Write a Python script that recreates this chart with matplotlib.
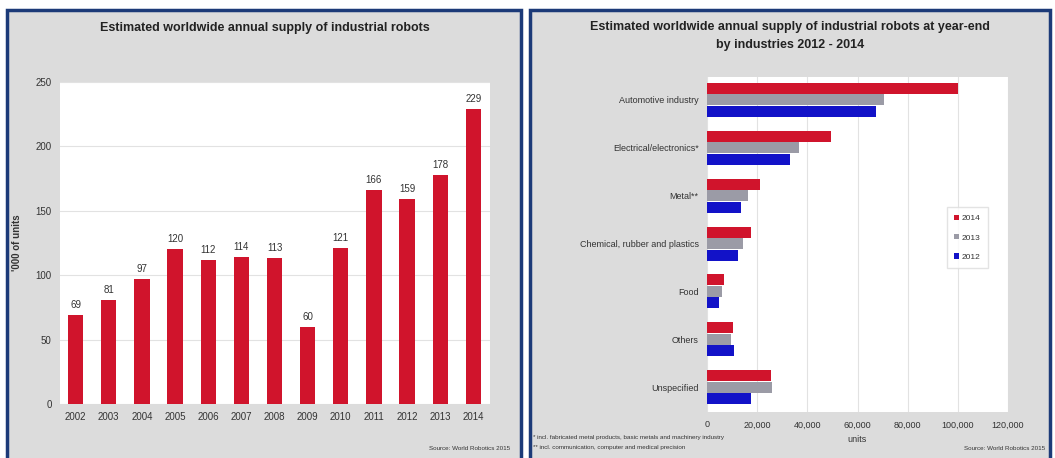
import matplotlib
matplotlib.use("Agg")
import matplotlib.pyplot as plt
from matplotlib.patches import Rectangle
import numpy as np

plt.rcParams['font.family'] = ['Liberation Sans', 'DejaVu Sans']

# left chart data
years = ["2002", "2003", "2004", "2005", "2006", "2007", "2008", "2009", "2010", "2011", "2012", "2013", "2014"]
supply = [69, 81, 97, 120, 112, 114, 113, 60, 121, 166, 159, 178, 229]

# right chart data
industries = ["Automotive industry", "Electrical/electronics*", "Metal**",
              "Chemical, rubber and plastics", "Food", "Others", "Unspecified"]
units_2014 = [100000, 49500, 21000, 17500, 6800, 10400, 25500]
units_2013 = [70500, 36500, 16500, 14300, 5800, 9400, 25800]
units_2012 = [67500, 33200, 13500, 12500, 4700, 10600, 17600]

RED = "#d0142c"
GRAY = "#9b9ba6"
BLUE = "#1212c8"
PANEL = "#dcdcdc"
FRAME = "#1c3a78"
TXT = "#333333"

W, H = 1055, 458
fig = plt.figure(figsize=(W / 100, H / 100), dpi=100)
fig.patch.set_facecolor("white")

def px(x0, y0, x1, y1):
    # pixel box (top-left origin) -> figure fraction rect
    return [x0 / W, 1 - y1 / H, (x1 - x0) / W, (y1 - y0) / H]

# panel backgrounds with blue frames
for x0, x1 in [(7, 521), (530, 1050)]:
    r = px(x0, 10, x1, 462)
    fig.patches.append(Rectangle((r[0], r[1]), r[2], r[3], transform=fig.transFigure,
                                 facecolor=PANEL, edgecolor=FRAME, linewidth=2.5, zorder=-5))

# ---- left chart ----
ax1 = fig.add_axes(px(60, 82, 490, 404))
x = np.arange(len(years))
bars = ax1.bar(x, supply, width=0.46, color=RED, zorder=3)
for b, v in zip(bars, supply):
    ax1.text(b.get_x() + b.get_width() / 2, v + 4, str(v), ha="center", va="bottom",
             fontsize=7, color=TXT)
ax1.set_xlim(-0.47, 12.5)
ax1.set_ylim(0, 250)
ax1.set_yticks([0, 50, 100, 150, 200, 250])
ax1.set_xticks(x)
ax1.set_xticklabels(years)
ax1.tick_params(length=0, labelsize=7, colors=TXT, pad=6)
ax1.grid(axis="y", color="#e2e2e2", linewidth=0.8, zorder=0)
for s in ax1.spines.values():
    s.set_visible(False)
ax1.set_ylabel("'000 of units", fontsize=7, fontweight="bold", color=TXT, labelpad=10)
fig.text(265 / W, 1 - 28 / H, "Estimated worldwide annual supply of industrial robots",
         ha="center", va="center", fontsize=9, fontweight="bold", color="#222222")
fig.text(510 / W, 1 - 448 / H, "Source: World Robotics 2015", ha="right", va="center",
         fontsize=4.5, color=TXT)

# ---- right chart ----
ax2 = fig.add_axes(px(707, 77, 1008, 412))
y = np.arange(len(industries))
h = 0.23
ax2.barh(y - 0.24, units_2014, height=h, color=RED, label="2014", zorder=3)
ax2.barh(y, units_2013, height=h, color=GRAY, label="2013", zorder=3)
ax2.barh(y + 0.24, units_2012, height=h, color=BLUE, label="2012", zorder=3)
ax2.set_ylim(6.52, -0.48)
ax2.set_xlim(0, 120000)
ax2.set_xticks(np.arange(0, 120001, 20000))
ax2.set_xticklabels(["0", "20,000", "40,000", "60,000", "80,000", "100,000", "120,000"])
ax2.set_yticks(y)
ax2.set_yticklabels(industries)
ax2.tick_params(length=0, labelsize=6.5, colors=TXT, pad=6)
ax2.grid(axis="x", color="#e2e2e2", linewidth=0.8, zorder=0)
for s in ax2.spines.values():
    s.set_visible(False)
ax2.set_xlabel("units", fontsize=6.5, color=TXT, labelpad=4)
leg = ax2.legend(loc="center", bbox_to_anchor=(0.865, 0.52), fontsize=6, frameon=True,
                 handlelength=0.6, handleheight=0.6, handletextpad=0.3, labelspacing=1.4,
                 borderpad=0.9, fancybox=False, edgecolor="#dddddd")
for t in leg.get_texts():
    t.set_color(TXT)
fig.text(790 / W, 1 - 27 / H, "Estimated worldwide annual supply of industrial robots at year-end",
         ha="center", va="center", fontsize=9, fontweight="bold", color="#222222")
fig.text(790 / W, 1 - 45 / H, "by industries 2012 - 2014",
         ha="center", va="center", fontsize=9, fontweight="bold", color="#222222")
fig.text(533 / W, 1 - 437 / H, "* incl. fabricated metal products, basic metals and machinery industry",
         ha="left", va="center", fontsize=4.5, color=TXT)
fig.text(533 / W, 1 - 448 / H, "** incl. communication, computer and medical precision",
         ha="left", va="center", fontsize=4.5, color=TXT)
fig.text(1045 / W, 1 - 448 / H, "Source: World Robotics 2015", ha="right", va="center",
         fontsize=4.5, color=TXT)

fig.savefig("out.png", dpi=100)
